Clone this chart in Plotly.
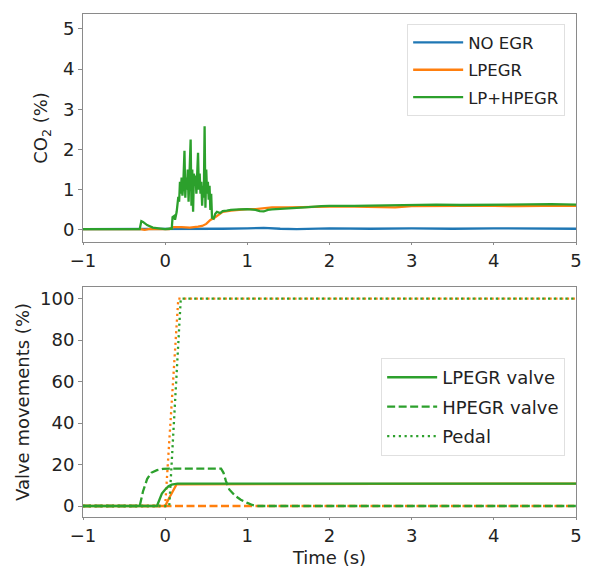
import plotly.graph_objects as go

# ---------------- data: top panel (CO2 %) ----------------
t_no_egr = [-1, -0.5, 0, 0.3, 0.55, 0.7, 1.0, 1.2, 1.4, 1.6, 2.0, 2.5, 3.0, 3.5, 4.0, 4.5, 5.0]
co2_no_egr = [0.02, 0.02, 0.02, 0.02, 0.03, 0.03, 0.04, 0.05, 0.03, 0.02, 0.04, 0.03, 0.04, 0.03, 0.04, 0.04, 0.03]

t_lpegr = [-1, -0.3, -0.25, -0.2, 0.05, 0.1, 0.2, 0.3, 0.4, 0.45, 0.5, 0.55, 0.6, 0.65, 0.7,
           0.8, 0.9, 1.0, 1.1, 1.2, 1.3, 1.5, 1.7, 2.0, 2.3, 2.6, 2.8, 3.0, 3.3, 3.6, 4.0, 4.3, 4.6, 5.0]
co2_lpegr = [0.02, 0.02, 0.0, 0.02, 0.02, 0.07, 0.07, 0.06, 0.08, 0.1, 0.15, 0.25, 0.3, 0.38, 0.45,
             0.48, 0.5, 0.52, 0.52, 0.54, 0.56, 0.56, 0.57, 0.58, 0.58, 0.57, 0.56, 0.59, 0.6, 0.6, 0.6, 0.59, 0.6, 0.6]

t_lphp = [-1, -0.5, -0.31, -0.29, -0.27, -0.22, -0.15, -0.08, 0.0, 0.05,
          0.08, 0.09, 0.11, 0.12, 0.14, 0.16, 0.17, 0.18, 0.19, 0.20, 0.21, 0.22, 0.235, 0.245,
          0.255, 0.265, 0.275, 0.285, 0.295, 0.31, 0.32, 0.33, 0.34, 0.35, 0.36, 0.37, 0.38,
          0.39, 0.40, 0.41, 0.42, 0.43, 0.44, 0.45, 0.46, 0.47, 0.48, 0.49, 0.50, 0.51, 0.52,
          0.53, 0.54, 0.55, 0.56, 0.57, 0.59, 0.61, 0.63, 0.67, 0.7, 0.75, 0.8, 0.9, 1.0, 1.1,
          1.15, 1.2, 1.25, 1.3, 1.4, 1.5, 1.7, 1.9, 2.0, 2.3, 2.6, 3.0, 3.3, 3.6, 4.0, 4.4, 4.7, 5.0]
co2_lphp = [0.02, 0.02, 0.02, 0.22, 0.2, 0.12, 0.06, 0.04, 0.02, 0.03,
            0.03, 0.32, 0.35, 0.25, 0.45, 0.82, 0.7, 1.2, 0.9, 1.3, 0.85, 1.1, 1.97, 0.8,
            1.3, 1.0, 1.5, 0.7, 1.4, 2.25, 0.6, 1.5, 0.45, 1.4, 1.1, 1.35, 0.9,
            1.3, 1.92, 1.0, 1.4, 0.9, 1.2, 0.6, 1.1, 0.8, 2.58, 0.55, 1.5, 0.9, 1.2,
            0.75, 1.1, 0.5, 0.9, 0.3, 0.28, 0.4, 0.45, 0.42, 0.47, 0.48, 0.5, 0.51, 0.52, 0.5,
            0.47, 0.46, 0.5, 0.51, 0.52, 0.54, 0.56, 0.59, 0.6, 0.6, 0.61, 0.62, 0.63, 0.62, 0.63, 0.63, 0.64, 0.63]

# ---------------- data: bottom panel (valve movements %) ----------------
t_lp_valve_g = [-1, -0.1, -0.07, -0.04, 0.0, 0.04, 0.08, 0.12, 0.15, 5]
lp_valve_g = [0, 0, 3, 6, 8, 9.5, 10.3, 10.7, 10.8, 10.8]
t_lp_valve_o = [-1, 0.0, 0.05, 0.1, 0.14, 5]
lp_valve_o = [0, 0, 4, 8, 10.5, 10.8]

t_hp_valve_g = [-1, -0.31, -0.27, -0.22, -0.17, -0.1, -0.03, 0.05, 0.68, 0.71, 0.74, 0.78,
                0.85, 0.92, 1.0, 1.06, 1.12, 5]
hp_valve_g = [0, 0, 7, 13, 16, 17.3, 17.9, 18, 18, 16, 12, 8, 5, 3, 1.5, 0.5, 0, 0]
t_hp_valve_o = [-1, 5]
hp_valve_o = [0, 0]

t_pedal_g = [-1, 0.05, 0.19, 5]
pedal_g = [0, 0, 100, 100]
t_pedal_o = [-1, 0.0, 0.16, 5]
pedal_o = [0, 0, 100, 100]

x_ticks = [-1, 0, 1, 2, 3, 4, 5]
y1_ticks = [0, 1, 2, 3, 4, 5]
y2_ticks = [0, 20, 40, 60, 80, 100]

BLUE, ORANGE, GREEN = "#1f77b4", "#ff7f0e", "#2ca02c"
LW = 2.3
DASH = "8px,3.5px"
DOT = "2.2px,3.6px"
FONT = "DejaVu Sans"

fig = go.Figure()

# top panel
for name, t, v, c in [("NO EGR", t_no_egr, co2_no_egr, BLUE),
                      ("LPEGR", t_lpegr, co2_lpegr, ORANGE),
                      ("LP+HPEGR", t_lphp, co2_lphp, GREEN)]:
    fig.add_trace(go.Scatter(x=t, y=v, mode="lines", name=name, legend="legend",
                             legendgroup=name, line=dict(color=c, width=LW),
                             xaxis="x", yaxis="y"))

# bottom panel (orange first, green on top)
fig.add_trace(go.Scatter(x=t_lp_valve_o, y=lp_valve_o, mode="lines", showlegend=False,
                         line=dict(color=ORANGE, width=LW), xaxis="x2", yaxis="y2"))
fig.add_trace(go.Scatter(x=t_hp_valve_o, y=hp_valve_o, mode="lines", showlegend=False,
                         line=dict(color=ORANGE, width=LW, dash=DASH), xaxis="x2", yaxis="y2"))
fig.add_trace(go.Scatter(x=t_pedal_o, y=pedal_o, mode="lines", showlegend=False,
                         line=dict(color=ORANGE, width=LW, dash=DOT), xaxis="x2", yaxis="y2"))
fig.add_trace(go.Scatter(x=t_lp_valve_g, y=lp_valve_g, mode="lines", name="LPEGR valve",
                         legend="legend2", legendgroup="a",
                         line=dict(color=GREEN, width=LW), xaxis="x2", yaxis="y2"))
fig.add_trace(go.Scatter(x=t_hp_valve_g, y=hp_valve_g, mode="lines", name="HPEGR valve",
                         legend="legend2", legendgroup="b",
                         line=dict(color=GREEN, width=LW, dash=DASH), xaxis="x2", yaxis="y2"))
fig.add_trace(go.Scatter(x=t_pedal_g, y=pedal_g, mode="lines", name="Pedal",
                         legend="legend2", legendgroup="c",
                         line=dict(color=GREEN, width=LW, dash=DOT), xaxis="x2", yaxis="y2"))

axis_common = dict(showline=True, mirror=True, linecolor="#8a8a8a", linewidth=1,
                   ticks="outside", tickcolor="#8a8a8a", showgrid=False,
                   zeroline=False, automargin=False, tickfont=dict(size=18, color="#222"))

legend_common = dict(bgcolor="rgba(255,255,255,0.85)", bordercolor="#e0e0e0", borderwidth=1,
                     xanchor="right", yanchor="top", itemwidth=50)

fig.update_layout(
    width=596, height=568,
    margin=dict(l=83, r=20, t=14, b=51, autoexpand=False),
    plot_bgcolor="white", paper_bgcolor="white",
    font=dict(family=FONT, size=18, color="#222"),
    xaxis=dict(domain=[0, 1], anchor="y", range=[-1, 5], tickvals=x_ticks, ticklen=2,
               **axis_common),
    yaxis=dict(domain=[0.5467, 1], anchor="x", range=[-0.3, 5.37], tickvals=y1_ticks, ticklen=4,
               title=dict(text="CO<sub>2</sub> (%)", font=dict(size=18), standoff=10),
               **axis_common),
    xaxis2=dict(domain=[0, 1], anchor="y2", range=[-1, 5], tickvals=x_ticks, ticklen=2,
                title=dict(text="Time (s)", font=dict(size=18), standoff=7), **axis_common),
    yaxis2=dict(domain=[0, 0.4573], anchor="x2", range=[-5.3, 105.6], tickvals=y2_ticks, ticklen=4,
                title=dict(text="Valve movements (%)", font=dict(size=18), standoff=5),
                **axis_common),
    legend=dict(x=0.978, y=0.98, font=dict(size=16.5, color="#222"), tracegroupgap=3,
                **legend_common),
    legend2=dict(x=0.978, y=0.316, font=dict(size=18, color="#222"), tracegroupgap=3,
                 **legend_common),
)

fig.write_html("out.html")
